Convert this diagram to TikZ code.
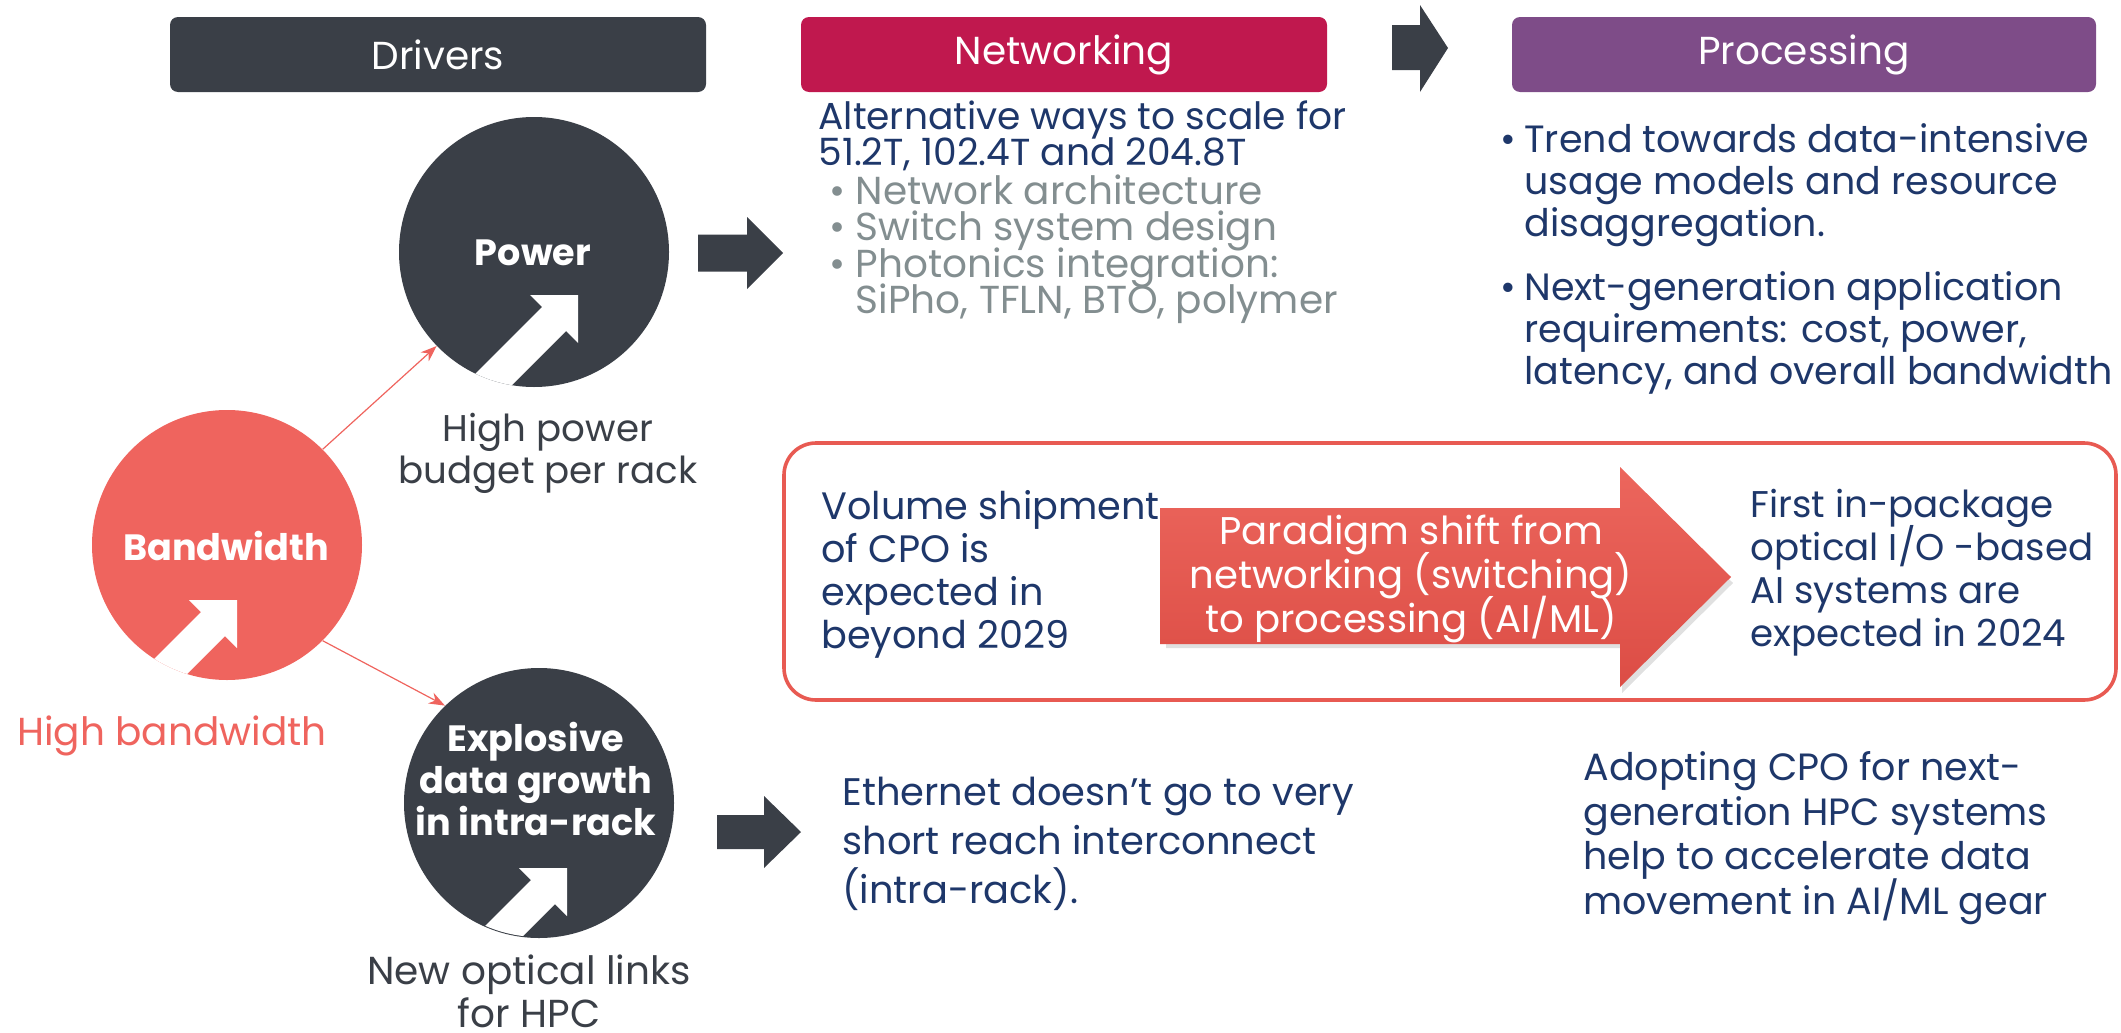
\documentclass[tikz,border=0pt]{standalone}
\usepackage{fontspec}
\setmainfont{Poppins}
\usetikzlibrary{arrows.meta}
\definecolor{dark}{HTML}{3A3F47}
\definecolor{crimson}{HTML}{C0184E}
\definecolor{purp}{HTML}{7E4C88}
\definecolor{coral}{HTML}{EF645E}
\definecolor{navy}{HTML}{1E376A}
\definecolor{grayt}{HTML}{838E90}
\definecolor{boxred}{HTML}{E85A52}
\definecolor{arrtop}{HTML}{EC665D}
\definecolor{arrbot}{HTML}{DC4D45}
\newcommand\mybul{\makebox[12pt][l]{•}}
\newcommand\myind{\hspace*{12pt}}
\lineskiplimit=-100pt
\lineskip=0pt
\begin{document}
\begin{tikzpicture}[x=0.5pt,y=-0.5pt,
  hdr/.style={rounded corners=4pt, minimum width=268pt, minimum height=37.5pt, inner sep=0pt, text=white, font=\fontsize{19.5}{21}\selectfont},
  txt/.style={inner sep=0pt, align=left, anchor=north west, text=navy},
  circ/.style={circle, minimum size=135pt, inner sep=0pt, fill=dark},
  clab/.style={inner sep=0pt, align=center, text=white, font=\bfseries\fontsize{18.3}{21}\selectfont},
  conn/.style={draw=coral, line width=0.6pt, -{Stealth[length=8pt,width=6pt]}},
  growicon/.pic={\fill[white] (0,0) -- (-48,0) -- (-36,12) -- (-156,132) -- (-132,156) -- (-12,36) -- (0,48) -- cycle;}
]
\useasboundingbox (0,0) rectangle (2121,1033);

% headers
\node[hdr, fill=dark] (hdrv) at (438,54.5) {Drivers};
\node[hdr, fill=crimson, minimum width=263pt] (hnet) at (1064,54.5) {Networking};
\node[hdr, fill=purp, minimum width=292pt] (hproc) at (1804,54.5) {Processing};
\fill[dark] (1392,25) -- (1420,25) -- (1420,5) -- (1448,48) -- (1420,92) -- (1420,70) -- (1392,70) -- cycle;

% circles
\node[circ] (pw) at (534,252) {};
\node[circ, fill=coral] (bw) at (227,545) {};
\node[circ] (ex) at (539,803) {};
\begin{scope}
  \clip (534,252) circle[radius=135];
  \pic at (578,295) {growicon};
\end{scope}
\begin{scope}
  \clip (227,545) circle[radius=135];
  \pic at (237,600) {growicon};
\end{scope}
\begin{scope}
  \clip (539,803) circle[radius=134];
  \pic at (567,868) {growicon};
\end{scope}
\node[clab] (pwl) at (533,253) {Power};
\node[clab] (bwl) at (226,546) {Bandwidth};
\node[clab, anchor=north] (exl) at (536,722) {Explosive\\data growth\\in intra-rack};

\draw[conn] (bw.45) -- (pw.224);
\draw[conn] (bw.-45) -- (ex.134);

% captions
\node[txt, anchor=north, align=center, text=dark, font=\fontsize{18.6}{21}\selectfont] (hpb) at (548,413) {High power\\budget per rack};
\node[txt, anchor=north, align=center, text=coral, font=\fontsize{19.5}{21}\selectfont] (hbw) at (172,715) {High bandwidth};
\node[txt, anchor=north, align=center, text=dark, font=\fontsize{19.5}{21.5}\selectfont] (nol) at (529,954) {New optical links\\for HPC};

% block arrows
\fill[dark] (698,234.5) -- (747,234.5) -- (747,217) -- (783,253) -- (747,289) -- (747,271.5) -- (698,271.5) -- cycle;
\fill[dark] (717,815) -- (764,815) -- (764,796) -- (801,832) -- (764,868) -- (764,849) -- (717,849) -- cycle;

% networking text
\node[txt, font=\fontsize{18.8}{18}\selectfont] (netm) at (818,100) {Alternative ways to scale for\\51.2T, 102.4T and 204.8T};
\node[txt, text=grayt, font=\fontsize{19.5}{18.3}\selectfont] (netb) at (829,174) {• Network architecture\\• Switch system design\\• Photonics integration:\\\hphantom{• }SiPho, TFLN, BTO, polymer};

% processing text
\node[txt, font=\fontsize{19}{21}\selectfont] (proc) at (1500,123) {\mybul Trend towards data-intensive\\\myind usage models and resource\\\myind disaggregation.\\[11pt]\mybul Next-generation application\\\myind requirements: cost, power,\\\myind latency, and overall bandwidth};

% red box
\draw[boxred, line width=1.8pt, rounded corners=16pt] (784,443) rectangle (2116,700);
\fill[black, opacity=0.12] (1166,516) -- (1622,516) -- (1622,473) -- (1733,583) -- (1622,693) -- (1622,648) -- (1166,648) -- cycle;
\shade[top color=arrtop, bottom color=arrbot] (1160,508) -- (1620,508) -- (1620,467) -- (1731,577) -- (1620,687) -- (1620,644) -- (1160,644) -- cycle;
\node[inner sep=0pt, align=center, text=white, font=\fontsize{19.3}{22}\selectfont] (par) at (1411,579) {Paradigm shift from\\networking (switching)\\to processing (AI/ML)};
\node[txt, font=\fontsize{19.1}{21.5}\selectfont] (vol) at (821,490) {Volume shipment\\of CPO is\\expected in\\beyond 2029};
\node[txt, font=\fontsize{18.6}{21.5}\selectfont] (first) at (1750,489) {First in-package\\optical I/O -based\\AI systems are\\expected in 2024};

% bottom texts
\node[txt, font=\fontsize{19.2}{24.4}\selectfont] (eth) at (842,777) {Ethernet doesn’t go to very\\short reach interconnect\\(intra-rack).};
\node[txt, font=\fontsize{19}{22.3}\selectfont] (adopt) at (1583,751) {Adopting CPO for next-\\generation HPC systems\\help to accelerate data\\movement in AI/ML gear};
\end{tikzpicture}
\end{document}
